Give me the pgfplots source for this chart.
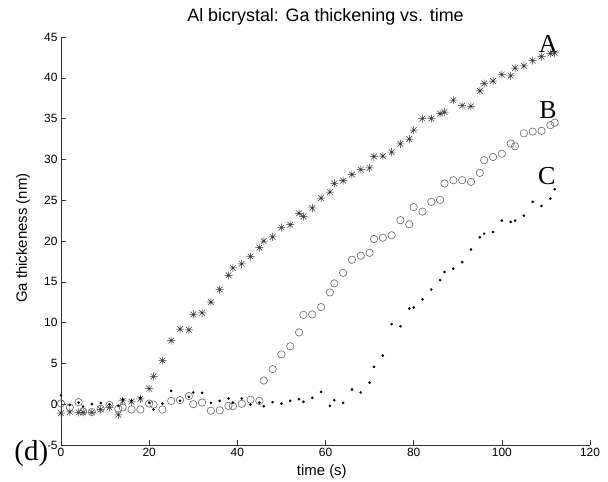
\documentclass[border=0pt]{standalone}
\usepackage{fontspec}
\setmainfont{Liberation Sans}
\newfontfamily\timesfont{Liberation Serif}
\usepackage{pgfplots}
\usepackage{pgfplotstable}
\pgfplotsset{compat=1.18}

% MATLAB style '*' marker: plus and cross together
\pgfdeclareplotmark{mstar}{%
  \pgfpathmoveto{\pgfqpoint{-\pgfplotmarksize}{0pt}}\pgfpathlineto{\pgfqpoint{\pgfplotmarksize}{0pt}}%
  \pgfpathmoveto{\pgfqpoint{0pt}{-\pgfplotmarksize}}\pgfpathlineto{\pgfqpoint{0pt}{\pgfplotmarksize}}%
  \pgfpathmoveto{\pgfqpoint{-.707\pgfplotmarksize}{-.707\pgfplotmarksize}}\pgfpathlineto{\pgfqpoint{.707\pgfplotmarksize}{.707\pgfplotmarksize}}%
  \pgfpathmoveto{\pgfqpoint{-.707\pgfplotmarksize}{.707\pgfplotmarksize}}\pgfpathlineto{\pgfqpoint{.707\pgfplotmarksize}{-.707\pgfplotmarksize}}%
  \pgfusepathqstroke}

% t (s), thickness (nm) for curves A, B, C
\pgfplotstableread{
t    A      B      C
0    -1.1   0.1    1.1
2    -0.95  -0.4   -0.1
4    -1.0   0.25   0.2
5    -1.0   -0.9   -0.3
7    -1.0   -0.95  0.0
9    -0.65  -0.55  0.15
11   -0.4   -0.1   0.0
13   -1.3   -0.55  -0.2
14   0.4    -0.4   0.6
16   0.3    -0.65  0.45
18   0.65   -0.65  0.8
20   1.9    0.08   0.2
21   3.4    -0.05  -0.65
23   5.35   -0.65  0.08
25   7.8    0.4    1.63
27   9.2    0.5    0.41
29   9.1    1.0    0.9
30   11.0   0.0    1.43
32   11.2   0.2    1.39
34   12.5   -0.8   0.16
36   14.05  -0.75  0.41
38   15.8   -0.2   0.69
39   16.7   -0.25  0.2
41   17.2   0.05   0.69
43   18.1   0.55   -0.04
45   19.2   0.4    0.2
46   20.0   2.9    -0.25
48   20.5   4.3    0.25
50   21.65  6.1    0.08
52   22.0   7.1    0.41
54   23.4   8.8    0.61
55   23.0   10.95  0.29
57   24.05  11.0   0.78
59   25.25  11.9   1.51
61   26.0   13.7   -0.2
62   27.05  14.8   0.49
64   27.4   16.1   0.16
66   28.15  17.7   1.8
68   28.75  18.2   1.43
70   28.95  18.55  2.65
71   30.35  20.25  4.6
73   30.4   20.4   5.96
75   30.9   20.7   9.8
77   31.9   22.55  9.56
79   32.5   22.05  11.72
80   33.6   24.15  11.85
82   35.0   23.6   12.85
84   35.0   24.8   14.05
86   35.6   25.05  15.2
87   35.8   27.05  16.2
89   37.25  27.45  16.6
91   36.6   27.45  17.4
93   36.5   27.25  18.95
95   38.4   28.35  20.45
96   39.3   29.9   20.9
98   39.6   30.3   21.1
100  40.4   30.7   22.5
102  40.25  31.95  22.35
103  41.2   31.6   22.5
105  41.45  33.2   23.1
107  42.1   33.4   24.8
109  42.6   33.5   24.3
111  43.0   34.2   25.2
112  43.05  34.5   26.35
}\thick

\begin{document}
\begin{tikzpicture}
\begin{axis}[
    name=ax,
    scale only axis,
    width=529bp, height=408bp,
    xmin=0, xmax=120, ymin=-5, ymax=45,
    axis x line=bottom, axis y line=left,
    axis line style={-, black!80, line width=0.6bp},
    tick align=inside,
    major tick length=5bp,
    tick style={black!80, line width=0.6bp},
    xtick={0,20,...,120},
    ytick={-5,0,...,45},
    ticklabel style={font=\fontsize{12}{14}\selectfont},
    /pgf/number format/assume math mode=true,
    xlabel={time (s)},
    ylabel={Ga thickeness (nm)},
    xlabel style={font=\fontsize{15}{17}\selectfont, at={(rel axis cs:0.493,-0.066)}, anchor=center},
    ylabel style={font=\fontsize{15}{17}\selectfont, at={(rel axis cs:-0.072,0.507)}, anchor=center},
    title={Al bicrystal: Ga thickening vs. time},
    title style={font=\fontsize{18}{20}\selectfont, at={(rel axis cs:0.5,1.024)}, anchor=base},
    clip=false,
]
\addplot[only marks, mark=mstar, mark size=4bp, draw=black!80, line width=0.5bp] table[x=t, y=A] {\thick};
\addplot[only marks, mark=o, mark size=3.7bp, draw=black!60, line width=0.6bp] table[x=t, y=B] {\thick};
\addplot[only marks, mark=*, mark size=1.1bp, black] table[x=t, y=C] {\thick};

\node[font=\timesfont\fontsize{26}{28}\selectfont, inner sep=0pt] at (axis cs:110.5,44.2) {A};
\node[font=\timesfont\fontsize{26}{28}\selectfont, inner sep=0pt] at (axis cs:110.5,36.05) {B};
\node[font=\timesfont\fontsize{26}{28}\selectfont, inner sep=0pt] at (axis cs:110.2,27.9) {C};
\node[font=\timesfont\fontsize{29}{31}\selectfont, inner sep=0pt, fill=white, anchor=base west] at (axis cs:-10.6,-6.86) {(d)};
\end{axis}
\pgfresetboundingbox
\path (ax.south west) ++(-61bp,-37bp) rectangle ++(608bp,482bp);
\end{tikzpicture}
\end{document}
